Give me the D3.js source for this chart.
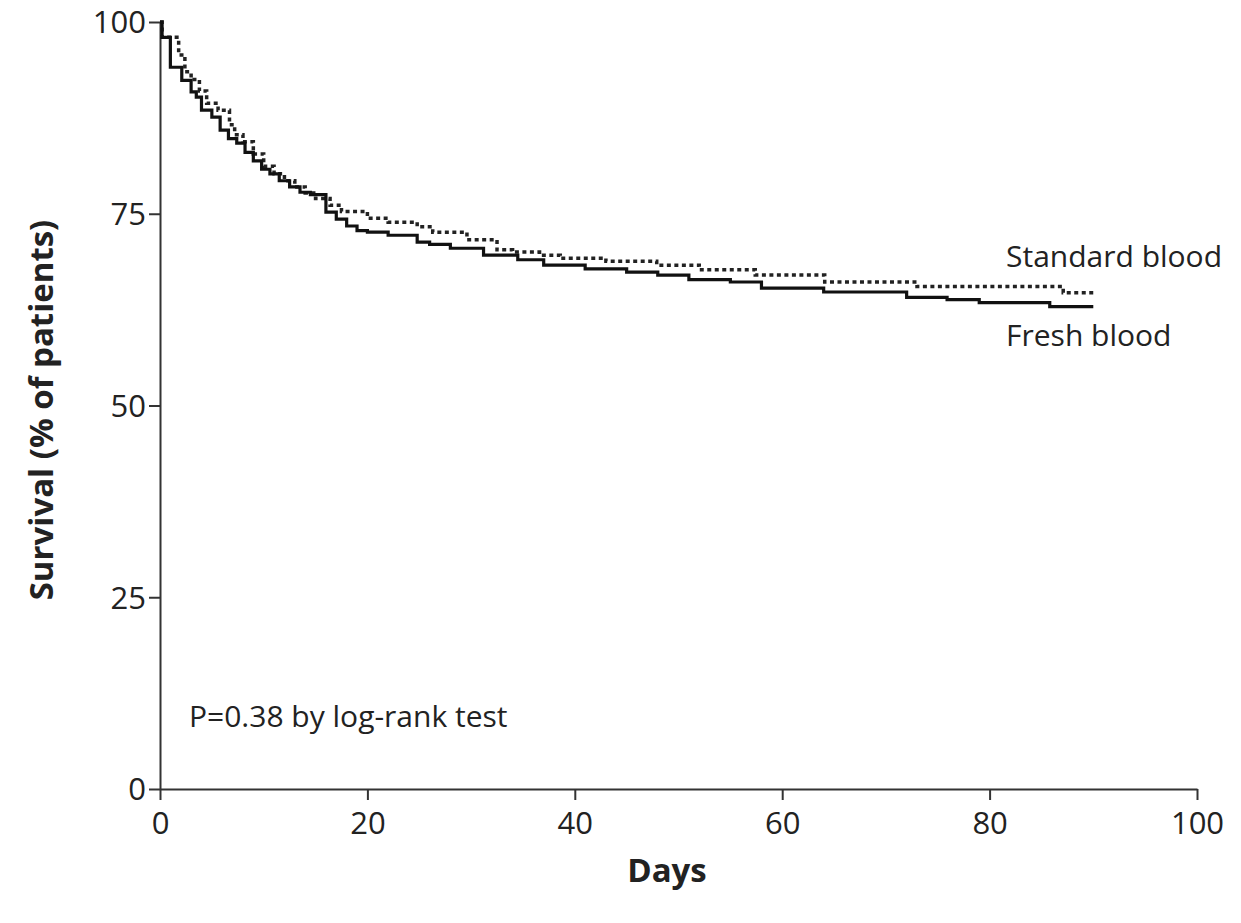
<!DOCTYPE html>
<html><head><meta charset="utf-8">
<script src="https://cdn.jsdelivr.net/npm/d3@7"></script>
<style>body{margin:0;background:#fff}svg{display:block}text{font-family:"Open Sans",sans-serif;fill:#222}</style>
</head><body>
<svg id="c" width="1241" height="923"></svg>
<script>
const freshDays = [0, 0.2, 1, 2.1, 3, 3.5, 4, 5, 5.8, 6.6, 7.4, 8.2, 9, 9.8, 10.6, 11.5, 12.5, 13.5, 14.5, 16, 17, 18, 19, 20, 22, 24.8, 26, 28, 31.2, 34.5, 37, 41, 45, 48, 51, 55, 58, 64, 72, 75.9, 79, 85.8, 90];
const freshSurv = [100, 98, 94.1, 92.4, 90.9, 90.2, 88.5, 87.6, 85.9, 84.8, 84.2, 83, 81.9, 80.8, 80.2, 79.3, 78.5, 77.8, 77.5, 75.2, 74.3, 73.4, 72.8, 72.6, 72.2, 71.3, 71.0, 70.5, 69.6, 69.0, 68.3, 67.8, 67.4, 67.0, 66.4, 66.1, 65.3, 64.8, 64.1, 63.8, 63.4, 62.9, 62.9];
const stdDays = [0, 0.2, 1.8, 2.4, 3, 3.8, 4.5, 5.6, 6.7, 7.2, 8, 9, 10, 11, 12, 13, 14, 15, 16.4, 17.5, 20, 22, 24.8, 26.3, 29.6, 32.5, 34, 36.6, 38.6, 43, 47.9, 52, 57.4, 64.1, 73, 87.1, 90];
const stdSurv = [100, 98, 95.7, 93.5, 92.5, 91, 89.4, 88.5, 86.6, 85.3, 84.4, 82.8, 81.2, 80.2, 79.3, 78.5, 77.7, 77, 76.1, 75.3, 74.4, 73.9, 73.3, 72.6, 71.6, 70.3, 70.0, 69.6, 69.2, 68.8, 68.3, 67.7, 67.0, 66.1, 65.5, 64.7, 64.7];
const xTicks = [0, 20, 40, 60, 80, 100];
const yTicks = [0, 25, 50, 75, 100];

const svg = d3.select("#c");
const x = d3.scaleLinear().domain([0, 100]).range([160, 1197]);
const y = d3.scaleLinear().domain([0, 100]).range([789, 22]);

const ax = svg.append("g").attr("transform", "translate(0,789)")
  .call(d3.axisBottom(x).tickValues(xTicks).tickSize(11).tickSizeOuter(0).tickPadding(12));
const ay = svg.append("g").attr("transform", "translate(160,0)")
  .call(d3.axisLeft(y).tickValues(yTicks).tickSize(11).tickSizeOuter(0).tickPadding(3));
[ax, ay].forEach(g => {
  g.selectAll("path,line").attr("stroke", "#333").attr("stroke-width", 2);
  g.selectAll("text").attr("font-size", 31).attr("fill", "#222").attr("font-family", "'Open Sans',sans-serif");
});
ay.selectAll("text").attr("dy", "0.35em");

const line = d3.line().x(d => x(d[0])).y(d => y(d[1])).curve(d3.curveStepAfter);
svg.append("path").datum(stdDays.map((d, i) => [d, stdSurv[i]]))
  .attr("d", line).attr("fill", "none").attr("stroke", "#222").attr("stroke-width", 3.5).attr("stroke-dasharray", "4,3.5");
svg.append("path").datum(freshDays.map((d, i) => [d, freshSurv[i]]))
  .attr("d", line).attr("fill", "none").attr("stroke", "#111").attr("stroke-width", 3.2);

svg.append("text").attr("x", 1006).attr("y", 267).attr("font-size", 30).text("Standard blood");
svg.append("text").attr("x", 1006).attr("y", 346).attr("font-size", 30).text("Fresh blood");
svg.append("text").attr("x", 189).attr("y", 727).attr("font-size", 30).text("P=0.38 by log-rank test");
svg.append("text").attr("x", 667).attr("y", 882).attr("text-anchor", "middle").attr("font-size", 33).attr("font-weight", "bold").text("Days");
svg.append("text").attr("transform", "translate(53,410) rotate(-90)").attr("text-anchor", "middle").attr("font-size", 33).attr("font-weight", "bold").text("Survival (% of patients)");
</script>
</body></html>
